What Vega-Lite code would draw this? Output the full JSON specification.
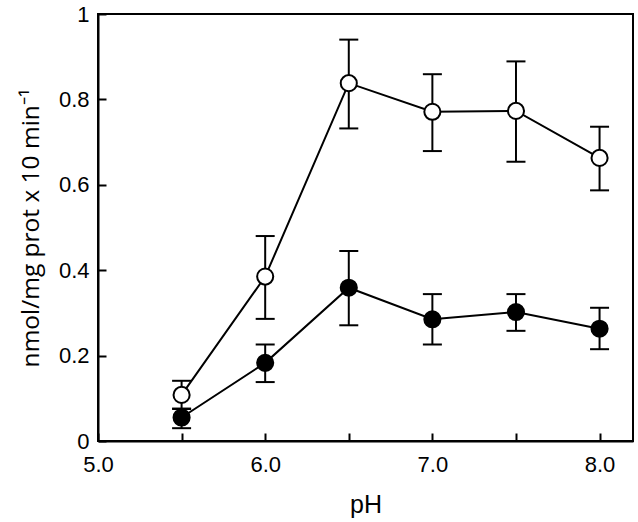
{
  "$schema": "https://vega.github.io/schema/vega-lite/v6.json",
  "autosize": "none",
  "width": 535,
  "height": 427,
  "padding": {"left": 98, "top": 14, "right": 5, "bottom": 81},
  "background": "white",
  "view": {"stroke": "black", "strokeWidth": 2},
  "data": {
    "values": [
      {"ph": 5.5, "series": "open", "mean": 0.108, "lo": 0.075, "hi": 0.141},
      {"ph": 6.0, "series": "open", "mean": 0.385, "lo": 0.286, "hi": 0.48},
      {"ph": 6.5, "series": "open", "mean": 0.838, "lo": 0.732, "hi": 0.94},
      {"ph": 7.0, "series": "open", "mean": 0.771, "lo": 0.679, "hi": 0.859},
      {"ph": 7.5, "series": "open", "mean": 0.773, "lo": 0.654, "hi": 0.889},
      {"ph": 8.0, "series": "open", "mean": 0.663, "lo": 0.587, "hi": 0.736},
      {"ph": 5.5, "series": "filled", "mean": 0.055, "lo": 0.03, "hi": 0.076},
      {"ph": 6.0, "series": "filled", "mean": 0.183, "lo": 0.138, "hi": 0.226},
      {"ph": 6.5, "series": "filled", "mean": 0.359, "lo": 0.271, "hi": 0.445},
      {"ph": 7.0, "series": "filled", "mean": 0.285, "lo": 0.226, "hi": 0.344},
      {"ph": 7.5, "series": "filled", "mean": 0.302, "lo": 0.258, "hi": 0.344},
      {"ph": 8.0, "series": "filled", "mean": 0.263, "lo": 0.215, "hi": 0.312}
    ]
  },
  "encoding": {
    "x": {
      "field": "ph", "type": "quantitative",
      "scale": {"domain": [5.0, 8.2], "nice": false, "zero": false},
      "axis": {
        "title": "pH", "values": [5.0, 5.5, 6.0, 6.5, 7.0, 7.5, 8.0],
        "labelExpr": "datum.value % 1 == 0 ? format(datum.value, '.1f') : ''",
        "tickSize": -8, "tickWidth": 2, "tickColor": "black",
        "domainColor": "black", "domainWidth": 2, "grid": false,
        "labelFont": "Liberation Sans", "labelFontSize": 22, "labelColor": "black",
        "titleFont": "Liberation Sans", "titleFontSize": 25, "titleFontWeight": "normal", "titleColor": "black",
        "labelPadding": 21, "titlePadding": 17, "labelFlush": false
      }
    }
  },
  "layer": [
    {
      "mark": {"type": "line", "color": "black", "strokeWidth": 2},
      "encoding": {
        "y": {
          "field": "mean", "type": "quantitative",
          "scale": {"domain": [0, 1], "nice": false},
          "axis": {
            "title": "nmol/mg prot x 10 min⁻¹", "values": [0, 0.2, 0.4, 0.6, 0.8, 1],
            "labelExpr": "datum.value == 0 ? '0' : datum.value == 1 ? '1' : format(datum.value, '.1f')",
            "tickSize": -8, "tickWidth": 2, "tickColor": "black",
            "domainColor": "black", "domainWidth": 2, "grid": false,
            "labelFont": "Liberation Sans", "labelFontSize": 22, "labelColor": "black",
            "titleFont": "Open Sans", "titleFontSize": 24.5, "titleFontWeight": "normal", "titleColor": "black",
            "labelPadding": 17, "titlePadding": 15, "labelFlush": false
          }
        },
        "detail": {"field": "series"}
      }
    },
    {
      "mark": {"type": "rule", "color": "black", "strokeWidth": 2},
      "encoding": {
        "y": {"field": "lo", "type": "quantitative"},
        "y2": {"field": "hi"}
      }
    },
    {
      "mark": {"type": "tick", "orient": "horizontal", "color": "black", "thickness": 2, "size": 19, "opacity": 1},
      "encoding": {"y": {"field": "lo", "type": "quantitative"}}
    },
    {
      "mark": {"type": "tick", "orient": "horizontal", "color": "black", "thickness": 2, "size": 19, "opacity": 1},
      "encoding": {"y": {"field": "hi", "type": "quantitative"}}
    },
    {
      "mark": {"type": "point", "shape": "circle", "size": 260, "stroke": "black", "strokeWidth": 2, "filled": true, "opacity": 1},
      "encoding": {
        "y": {"field": "mean", "type": "quantitative"},
        "fill": {
          "field": "series", "type": "nominal",
          "scale": {"domain": ["filled", "open"], "range": ["black", "white"]},
          "legend": null
        }
      }
    }
  ]
}
